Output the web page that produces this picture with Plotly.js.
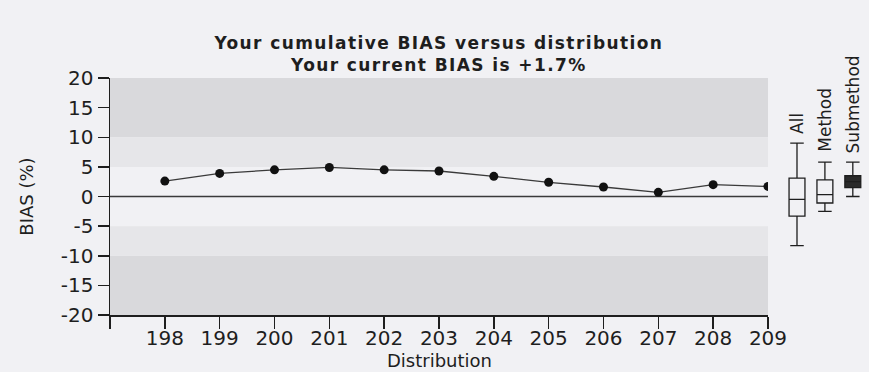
<!DOCTYPE html>
<html>
<head>
<meta charset="utf-8">
<script src="https://cdn.plot.ly/plotly-3.0.1.min.js"></script>
<style>
  html, body { margin: 0; padding: 0; background: #f1f1f4; }
  #chart { width: 869px; height: 372px; }
  #chart .gtitle { letter-spacing: 1.4px; }
</style>
</head>
<body>
<div id="chart"></div>
<script>
// Cumulative BIAS per distribution round
const distributions = [198, 199, 200, 201, 202, 203, 204, 205, 206, 207, 208, 209];
const biasValues = [2.6, 3.9, 4.5, 4.9, 4.5, 4.3, 3.4, 2.4, 1.6, 0.7, 2.0, 1.7];

// Tick labels (first distribution tick unlabelled)
const xTickVals = [197, 198, 199, 200, 201, 202, 203, 204, 205, 206, 207, 208, 209];
const xTickText = ['', '198', '199', '200', '201', '202', '203', '204', '205', '206', '207', '208', '209'];
const yTickVals = [-20, -15, -10, -5, 0, 5, 10, 15, 20];
const yTickText = ['-20', '-15', '-10', '-5', '0', '5', '10', '15', '20'];

// Comparison groups, summarised as box statistics
const boxGroups = ['All', 'Method', 'Submethod'];
const boxLower = [-8.3, -2.5, 0.0];
const boxQ1 = [-3.3, -1.1, 1.5];
const boxMedian = [-0.5, 0.3, 2.5];
const boxQ3 = [3.1, 2.8, 3.5];
const boxUpper = [9.0, 5.8, 5.8];
const boxFill = ['rgba(0,0,0,0)', 'rgba(0,0,0,0)', '#2a2a2a'];

// Acceptance bands
const bandLight = [[5, 10], [-10, -5]];
const bandDark = [[10, 20], [-20, -10]];

const ink = '#1e1e1e';
const family = 'DejaVu Sans, sans-serif';
const tickFont = { family: family, size: 20, color: ink };
const labelFont = { family: family, size: 18, color: ink };
const titleFont = { family: family, size: 17, color: ink, weight: 'bold' };

const traces = [{
  type: 'scatter',
  mode: 'lines+markers',
  x: distributions,
  y: biasValues,
  xaxis: 'x', yaxis: 'y',
  line: { color: '#3a3a3a', width: 1.3 },
  marker: { color: '#111', size: 9 },
  hoverinfo: 'x+y',
  showlegend: false
}];

boxGroups.forEach((g, i) => {
  traces.push({
    type: 'box',
    x: [g],
    q1: [boxQ1[i]],
    median: [boxMedian[i]],
    q3: [boxQ3[i]],
    lowerfence: [boxLower[i]],
    upperfence: [boxUpper[i]],
    xaxis: 'x2', yaxis: 'y',
    width: 0.57,
    whiskerwidth: 0.85,
    boxpoints: false,
    fillcolor: boxFill[i],
    line: { color: ink, width: 1.3 },
    showlegend: false
  });
});

const shapes = [];
bandDark.forEach(b => shapes.push({
  type: 'rect', xref: 'x', yref: 'y', x0: 197, x1: 209, y0: b[0], y1: b[1],
  fillcolor: '#d9d9dc', line: { width: 0 }, layer: 'below'
}));
bandLight.forEach(b => shapes.push({
  type: 'rect', xref: 'x', yref: 'y', x0: 197, x1: 209, y0: b[0], y1: b[1],
  fillcolor: '#e6e6e9', line: { width: 0 }, layer: 'below'
}));
// zero reference line
shapes.push({
  type: 'line', xref: 'x', yref: 'y', x0: 197, x1: 209, y0: 0, y1: 0,
  line: { color: '#3a3a3a', width: 1.3 }, layer: 'below'
});

const labelY = [10.3, 7.2, 6.9];
const annotations = boxGroups.map((g, i) => ({
  xref: 'x2', yref: 'y', x: g, y: labelY[i],
  text: g, textangle: -90, showarrow: false,
  xanchor: 'center', yanchor: 'bottom', font: { family: family, size: 17, color: ink }
}));
// x-axis title, set just under the tick labels
annotations.push({
  xref: 'paper', yref: 'paper', x: 0.4335, y: -0.19,
  text: 'Distribution', showarrow: false,
  xanchor: 'center', yanchor: 'middle', font: { family: family, size: 18, color: ink }
});

const layout = {
  width: 869, height: 372,
  margin: { l: 110, r: 0, t: 78, b: 57 },
  paper_bgcolor: '#f1f1f4',
  plot_bgcolor: 'rgba(0,0,0,0)',
  font: tickFont,
  title: {
    text: 'Your cumulative BIAS versus distribution<br>Your current BIAS is +1.7%',
    x: 0.505, xanchor: 'center', xref: 'container',
    y: 0.868, yanchor: 'middle', yref: 'container',
    font: titleFont
  },
  xaxis: {
    domain: [0, 0.8669],
    range: [197, 209],
    tickvals: xTickVals, ticktext: xTickText,
    ticks: 'outside', ticklen: 12, tickwidth: 1.5, tickcolor: ink,
    ticklabelstandoff: -8,
    showline: true, linecolor: ink, linewidth: 1.5,
    showgrid: false, zeroline: false,
    tickfont: tickFont,
    anchor: 'y'
  },
  xaxis2: {
    domain: [0.8669, 1],
    type: 'category',
    range: [-1.04, 2.58],
    visible: false,
    anchor: 'y'
  },
  yaxis: {
    range: [-20, 20],
    tickvals: yTickVals, ticktext: yTickText,
    ticks: 'outside', ticklen: 11, tickwidth: 1.5, tickcolor: ink,
    showline: true, linecolor: ink, linewidth: 1.5,
    showgrid: false, zeroline: false,
    tickfont: tickFont,
    title: { text: 'BIAS (%)', font: labelFont, standoff: 22 },
    anchor: 'x'
  },
  shapes: shapes,
  annotations: annotations
};

Plotly.newPlot('chart', traces, layout, { displayModeBar: false, staticPlot: true });
</script>
</body>
</html>
